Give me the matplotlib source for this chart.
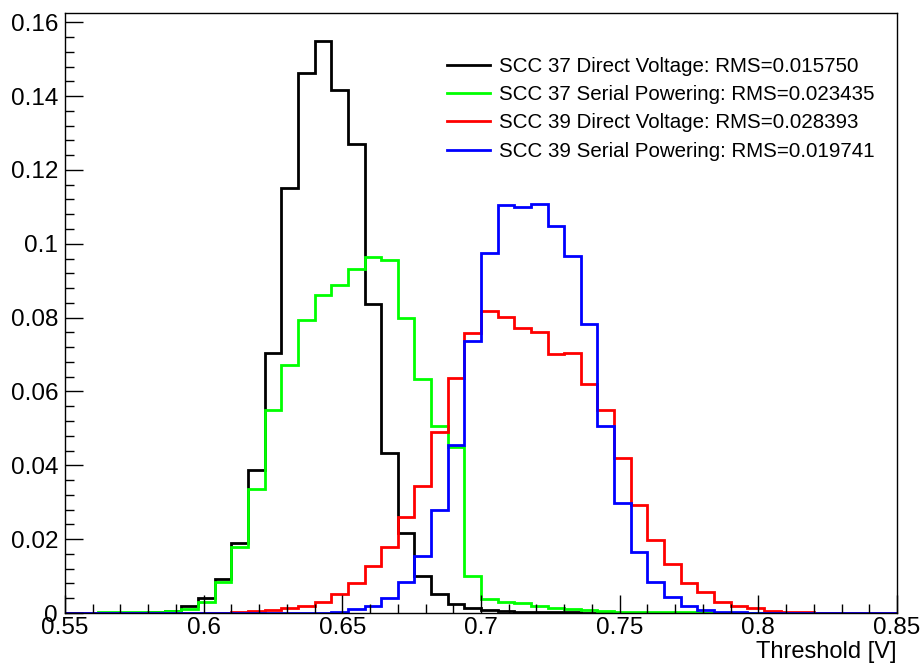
import numpy as np
import matplotlib
matplotlib.use("Agg")
import matplotlib.pyplot as plt
from matplotlib.ticker import MultipleLocator

edges = np.linspace(0.55, 0.85, 51)

scc37_dv = [0, 0, 0, 0, 0.0001, 0.0002, 0.0005, 0.0020, 0.0041, 0.0092,
            0.0190, 0.0387, 0.0705, 0.1150, 0.1463, 0.1548, 0.1417, 0.1271, 0.0838, 0.0432,
            0.0216, 0.0100, 0.0051, 0.0024, 0.0014, 0.0008, 0.0005, 0.0004, 0.0003, 0.0002,
            0.0002, 0.0001, 0.0001, 0, 0, 0, 0, 0, 0, 0,
            0, 0, 0, 0, 0, 0, 0, 0, 0, 0]
scc37_sp = [0, 0.0001, 0.0002, 0.0002, 0.0003, 0.0004, 0.0006, 0.0012, 0.0031, 0.0085,
            0.0180, 0.0337, 0.0549, 0.0673, 0.0793, 0.0862, 0.0888, 0.0933, 0.0963, 0.0955,
            0.0800, 0.0635, 0.0506, 0.0450, 0.0101, 0.0038, 0.0031, 0.0026, 0.0019, 0.0013,
            0.0010, 0.0008, 0.0005, 0.0004, 0.0003, 0.0003, 0.0002, 0.0002, 0.0001, 0.0001,
            0, 0, 0, 0, 0, 0, 0, 0, 0, 0]
scc39_dv = [0, 0, 0, 0, 0, 0, 0, 0, 0, 0.0001,
            0.0003, 0.0005, 0.0007, 0.0013, 0.0020, 0.0029, 0.0051, 0.0082, 0.0127, 0.0180,
            0.0259, 0.0344, 0.0491, 0.0636, 0.0757, 0.0818, 0.0802, 0.0771, 0.0761, 0.0701,
            0.0704, 0.0620, 0.0549, 0.0419, 0.0292, 0.0199, 0.0134, 0.0082, 0.0056, 0.0031,
            0.0019, 0.0013, 0.0006, 0.0004, 0.0002, 0, 0, 0, 0, 0]
scc39_sp = [0, 0, 0, 0, 0, 0, 0, 0, 0, 0,
            0, 0, 0, 0, 0, 0.0001, 0.0003, 0.0010, 0.0019, 0.0041,
            0.0083, 0.0154, 0.0279, 0.0455, 0.0736, 0.0976, 0.1104, 0.1100, 0.1107, 0.1048,
            0.0966, 0.0782, 0.0507, 0.0299, 0.0166, 0.0083, 0.0044, 0.0020, 0.0008, 0.0004,
            0.0002, 0.0001, 0, 0, 0, 0, 0, 0, 0, 0]

labels = ["SCC 37 Direct Voltage: RMS=0.015750",
          "SCC 37 Serial Powering: RMS=0.023435",
          "SCC 39 Direct Voltage: RMS=0.028393",
          "SCC 39 Serial Powering: RMS=0.019741"]
colors = ["#000000", "#00ff00", "#ff0000", "#0000ff"]
series = [scc37_dv, scc37_sp, scc39_dv, scc39_sp]

plt.rcParams['font.family'] = ['Liberation Sans', 'DejaVu Sans']

fig = plt.figure(figsize=(9.23, 6.65), dpi=100)
ax = fig.add_axes([65/923, 52/665, (897-65)/923, (613-13)/665])

for vals, c, lab in zip(series, colors, labels):
    ax.stairs(vals, edges, color=c, linewidth=2.0, label=lab, baseline=None)

ax.set_xlim(0.55, 0.85)
ax.set_ylim(0, 0.1625)
ax.xaxis.set_major_locator(MultipleLocator(0.05))
ax.xaxis.set_minor_locator(MultipleLocator(0.01))
ax.yaxis.set_major_locator(MultipleLocator(0.02))
ax.yaxis.set_minor_locator(MultipleLocator(0.004))
ax.xaxis.set_major_formatter(plt.FuncFormatter(lambda v, p: f"{v:g}"))
ax.yaxis.set_major_formatter(plt.FuncFormatter(lambda v, p: f"{v:g}" if abs(v) > 1e-9 else "0"))

ax.tick_params(which='both', direction='in', top=False, right=False, width=1)
ax.tick_params(axis='x', which='both', labelsize=17.5, pad=3)
ax.tick_params(axis='y', which='both', labelsize=17.5, pad=5)
ax.tick_params(which='major', length=13)
ax.tick_params(which='minor', length=6.5)
for s in ax.spines.values():
    s.set_linewidth(1.0)

ax.set_xlabel("Threshold [V]", fontsize=17, loc='right', labelpad=1)

leg = ax.legend(loc='upper left', bbox_to_anchor=((447-65)/832, 1 - (57-13)/600),
                frameon=False, fontsize=14.8, handlelength=2.1, handletextpad=0.45,
                labelspacing=0.45, borderaxespad=0, borderpad=0)
for h in leg.get_lines():
    h.set_linewidth(2.0)

fig.savefig("out.png", dpi=100)
